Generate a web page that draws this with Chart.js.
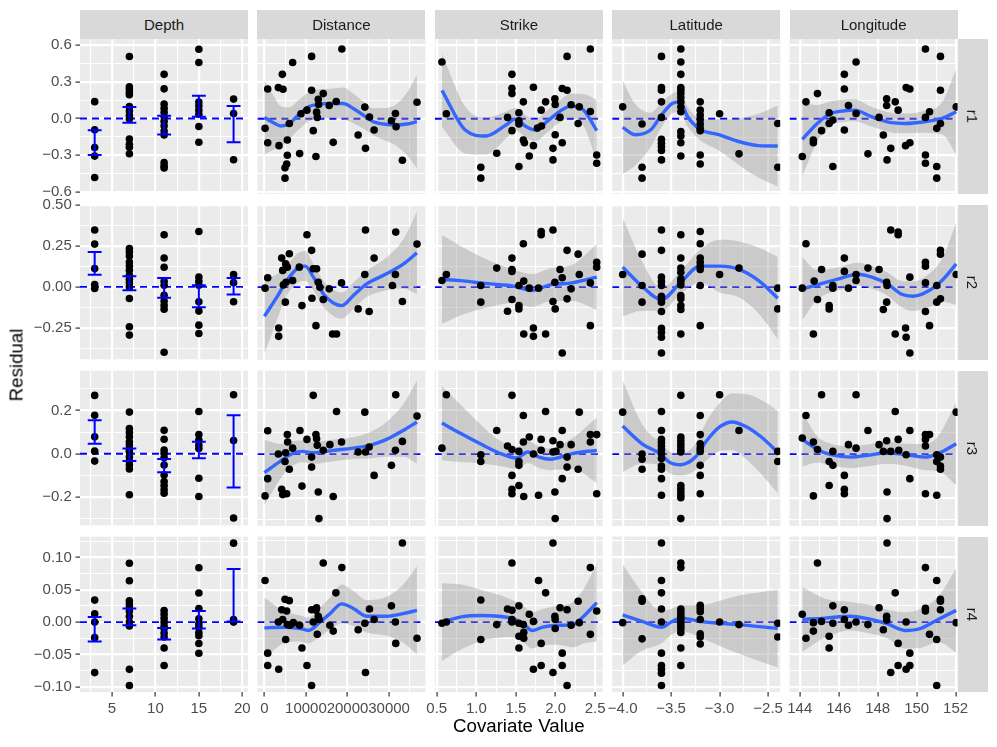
<!DOCTYPE html>
<html>
<head>
<meta charset="utf-8">
<script src="https://cdn.jsdelivr.net/npm/chart.js@4.4.1/dist/chart.umd.min.js"></script>
<style>
  body { margin: 0; background: #fff; width: 997px; height: 747px; position: relative; overflow: hidden; font-family: "Liberation Sans", Arial, sans-serif; }
  canvas { position: absolute; }
  .strip { position: absolute; background: #d9d9d9; color: #1a1a1a; font-size: 15px; display: flex; align-items: center; justify-content: center; }
  .strip span { display: block; white-space: nowrap; }
  .strip.right span { transform: rotate(90deg); }
  .title { position: absolute; color: #000; font-size: 18.7px; white-space: nowrap; line-height: 1.117; }
</style>
</head>
<body>
<script>
// facets
const covariates = ['Depth', 'Distance', 'Strike', 'Latitude', 'Longitude'];
const residualNames = ['r1', 'r2', 'r3', 'r4'];

// x axes (limits, major ticks, labels, minor grid)
const depthLimits = [1.31, 20.66];
const depthTicks = [5, 10, 15, 20];
const depthTickLabels = ['5', '10', '15', '20'];
const depthMinor = [2.5, 7.5, 12.5, 17.5];

const distLimits = [-1680, 38735];
const distTicks = [0, 10000, 20000, 30000];
const distTickLabels = ['0', '10000', '20000', '30000'];
const distMinor = [5000, 15000, 25000, 35000];

const strikeLimits = [0.475, 2.596];
const strikeTicks = [0.5, 1.0, 1.5, 2.0, 2.5];
const strikeTickLabels = ['0.5', '1.0', '1.5', '2.0', '2.5'];
const strikeMinor = [0.75, 1.25, 1.75, 2.25];

const latLimits = [-4.108, -2.375];
const latTicks = [-4.0, -3.5, -3.0, -2.5];
const latTickLabels = ['\u22124.0', '\u22123.5', '\u22123.0', '\u22122.5'];
const latMinor = [-3.75, -3.25, -2.75];

const lonLimits = [143.48, 152.1];
const lonTicks = [144, 146, 148, 150, 152];
const lonTickLabels = ['144', '146', '148', '150', '152'];
const lonMinor = [145, 147, 149, 151];

// y axes, one per residual row
const r1Limits = [-0.613, 0.654];
const r1Ticks = [-0.6, -0.3, 0, 0.3, 0.6];
const r1TickLabels = ['\u22120.6', '\u22120.3', '0.0', '0.3', '0.6'];
const r1Minor = [-0.45, -0.15, 0.15, 0.45];

const r2Limits = [-0.443, 0.503];
const r2Ticks = [-0.25, 0, 0.25, 0.5];
const r2TickLabels = ['\u22120.25', '0.00', '0.25', '0.50'];
const r2Minor = [-0.375, -0.125, 0.125, 0.375];

const r3Limits = [-0.330, 0.383];
const r3Ticks = [-0.2, 0, 0.2];
const r3TickLabels = ['\u22120.2', '0.0', '0.2'];
const r3Minor = [-0.3, -0.1, 0.1, 0.3];

const r4Limits = [-0.108, 0.132];
const r4Ticks = [-0.10, -0.05, 0, 0.05, 0.10];
const r4TickLabels = ['\u22120.10', '\u22120.05', '0.00', '0.05', '0.10'];
const r4Minor = [-0.075, -0.025, 0.025, 0.075, 0.125];

// Depth column: residuals at each depth level, and error bar [low, high]
const depthLevels = [3, 7, 11, 15, 19];
const depthR1 = [[0.138, -0.092, -0.238, -0.308, -0.484],
  [0.508, 0.259, 0.238, 0.211, 0.195, 0.097, 0.062, 0.024, -0.003, -0.168, -0.211, -0.235, -0.289],
  [0.362, 0.243, 0.119, 0.084, 0.051, 0.016, -0.022, -0.059, -0.103, -0.135, -0.362, -0.389, -0.405],
  [0.568, 0.459, 0.135, 0.103, 0.068, 0.035, -0.065, -0.195],
  [0.159, 0.041, -0.338]];
const depthR1Bars = [[-0.300, -0.097], [-0.035, 0.095], [-0.132, 0.022], [0.014, 0.186], [-0.195, 0.103]];
const depthR2 = [[0.348, 0.262, 0.112, 0.014, -0.010],
  [0.234, 0.213, 0.189, 0.152, 0.128, 0.102, 0.071, 0.047, 0.026, 0, -0.071, -0.244, -0.295],
  [0.319, 0.177, 0.120, 0.035, 0.010, -0.051, -0.087, -0.112, -0.136, -0.400],
  [0.339, 0.061, 0.035, 0.010, -0.091, -0.148, -0.234, -0.285],
  [0.075, 0.026, -0.091]];
const depthR2Bars = [[0.075, 0.213], [-0.020, 0.065], [-0.067, 0.055], [-0.124, 0.010], [-0.047, 0.055]];
const depthR3 = [[0.269, 0.177, 0.078, 0.012, -0.034],
  [0.192, 0.116, 0.098, 0.078, 0.055, 0.040, 0.021, 0.009, -0.014, -0.034, -0.052, -0.070, -0.189],
  [0.108, 0.067, 0.017, 0.002, -0.018, -0.052, -0.098, -0.128, -0.147, -0.166, -0.182],
  [0.195, 0.089, 0.063, 0.040, 0.024, -0.113, -0.197],
  [0.272, 0.061, -0.296]];
const depthR3Bars = [[0.046, 0.154], [-0.034, 0.024], [-0.085, -0.024], [-0.021, 0.055], [-0.156, 0.177]];
const depthR4 = [[0.034, 0.013, 0, -0.024, -0.078],
  [0.091, 0.064, 0.033, 0.028, 0.023, 0.017, 0.009, 0, -0.006, -0.073, -0.098],
  [0.018, 0.012, 0.006, 0, -0.006, -0.010, -0.017, -0.023, -0.040, -0.067],
  [0.084, 0.045, 0.021, 0.005, -0.003, -0.008, -0.016, -0.021, -0.033, -0.048],
  [0.122, 0.004, 0]];
const depthR4Bars = [[-0.030, 0.008], [-0.005, 0.021], [-0.027, -0.009], [-0.010, 0.017], [0.001, 0.082]];

// scatter points [covariate, residual]
const distR1 = [[160,-0.078],[800,0.243],[800,-0.195],[3360,0.254],[3520,-0.219],[4320,0.362],[4480,0.241],[4960,-0.484],[4960,-0.400],[5360,-0.368],[5520,-0.297],[5520,-0.173],[6000,-0.038],[6800,0.459],[8480,-0.284],[8800,0.041],[10240,0.070],[11360,0.508],[11360,0.232],[11760,-0.097],[12400,-0.308],[12560,0.054],[12720,0.011],[12960,0.159],[13040,0.116],[14160,0.205],[15600,0.108],[16560,-0.192],[17280,0.141],[18640,0.568],[22560,-0.132],[24160,0.095],[24320,-0.241],[25280,0.014],[26400,-0.092],[30560,-0.016],[31520,0.043],[31680,-0.065],[33200,-0.338],[36720,0.135]];
const strikeR1 = [[0.565,0.462],[0.621,0.041],[1.056,-0.395],[1.056,-0.484],[1.257,-0.281],[1.393,0.011],[1.449,0.362],[1.449,0.249],[1.449,0.205],[1.449,-0.097],[1.537,0.049],[1.537,-0.016],[1.537,-0.043],[1.537,-0.389],[1.593,0.138],[1.593,-0.173],[1.607,-0.195],[1.668,-0.303],[1.72,0.257],[1.72,-0.219],[1.771,-0.076],[1.818,0.070],[1.822,-0.059],[1.874,0.138],[1.967,-0.241],[1.967,-0.335],[1.991,0.162],[1.995,0.116],[1.995,-0.130],[2.056,0.011],[2.084,-0.195],[2.084,0.246],[2.145,0.232],[2.145,0.508],[2.196,0.114],[2.285,-0.038],[2.299,0.097],[2.439,0.568],[2.439,0.059],[2.519,-0.295],[2.519,-0.362]];
const latR1 = [[-4.0,0.097],[-3.8,-0.043],[-3.8,-0.395],[-3.8,-0.484],[-3.6,0.508],[-3.6,0.254],[-3.6,0.232],[-3.6,0.138],[-3.6,0.011],[-3.6,-0.168],[-3.6,-0.2],[-3.6,-0.227],[-3.6,-0.259],[-3.6,-0.335],[-3.4,0.568],[-3.4,0.462],[-3.4,0.362],[-3.4,0.254],[-3.4,0.232],[-3.4,0.205],[-3.4,0.173],[-3.4,0.138],[-3.4,0.097],[-3.4,0.057],[-3.4,-0.105],[-3.4,-0.141],[-3.4,-0.195],[-3.4,-0.303],[-3.2,0.138],[-3.2,0.070],[-3.2,0.030],[-3.2,-0.005],[-3.2,-0.043],[-3.2,-0.078],[-3.2,-0.097],[-3.2,-0.295],[-3.2,-0.368],[-3.0,0.041],[-2.8,-0.286],[-2.4,-0.038],[-2.4,-0.395]];
const lonR1 = [[144.13,-0.308],[144.32,0.138],[144.70,-0.173],[144.70,-0.195],[144.91,0.205],[145.12,-0.097],[145.51,0.049],[145.51,-0.038],[145.70,-0.011],[145.70,-0.389],[146.29,0.362],[146.29,0.243],[146.29,-0.092],[146.50,0.108],[146.89,0.462],[146.89,0.043],[147.50,-0.286],[148.07,0.011],[148.29,-0.132],[148.46,0.162],[148.46,0.108],[148.48,-0.335],[148.67,-0.241],[148.90,0.138],[149.05,0.070],[149.43,-0.219],[149.46,0.254],[149.65,0.243],[149.65,-0.195],[150.45,0.568],[150.45,0.011],[150.45,-0.295],[150.45,-0.362],[150.66,0.057],[151.03,-0.389],[151.03,-0.484],[151.03,-0.078],[151.22,0.508],[151.22,0.232],[151.22,-0.038],[152.03,0.097]];

const distR2 = [[160,-0.006],[800,0.057],[3440,-0.248],[3440,-0.299],[4160,0.177],[4400,0.102],[4560,0.014],[5040,-0.091],[5120,0.142],[5200,0.030],[5520,0.122],[6000,0.203],[6800,0.041],[8400,0.122],[9040,-0.112],[10240,0.319],[11360,0.224],[11440,-0.067],[11760,0.112],[12400,-0.234],[12560,0.112],[12960,0.030],[13360,0],[14160,-0.075],[15600,-0.010],[16400,-0.285],[17360,-0.285],[18560,0.026],[22560,-0.132],[24160,0.077],[24320,0.348],[25200,-0.148],[26400,0.177],[30800,0.010],[31520,0.077],[31600,0.335],[33200,-0.087],[36720,0.262]];
const strikeR2 = [[0.565,0.041],[0.621,0.077],[1.056,0.010],[1.056,-0.091],[1.257,0.116],[1.393,-0.146],[1.449,0.177],[1.449,0.108],[1.449,0.096],[1.449,-0.075],[1.537,0.010],[1.537,-0.112],[1.537,-0.132],[1.593,0.264],[1.598,0.037],[1.598,-0.285],[1.668,-0.006],[1.72,-0.248],[1.72,-0.299],[1.785,-0.006],[1.818,0.339],[1.818,0.319],[1.874,-0.285],[1.967,0.348],[1.967,-0.087],[1.991,0.030],[1.995,-0.132],[2.056,0.108],[2.084,-0.400],[2.084,0.057],[2.145,0.224],[2.145,-0.071],[2.196,-0.010],[2.285,0.201],[2.299,0.077],[2.439,0.026],[2.439,-0.234],[2.519,0.152],[2.519,0.122]];
const latR2 = [[-4.0,0.077],[-3.8,0.201],[-3.8,0.010],[-3.8,-0.091],[-3.6,0.348],[-3.6,0.224],[-3.6,0.061],[-3.6,0.035],[-3.6,0.010],[-3.6,-0.055],[-3.6,-0.075],[-3.6,-0.091],[-3.6,-0.148],[-3.6,-0.25],[-3.6,-0.274],[-3.6,-0.305],[-3.6,-0.4],[-3.4,0.319],[-3.4,0.177],[-3.4,0.116],[-3.4,0.091],[-3.4,0.051],[-3.4,0.035],[-3.4,0.014],[-3.4,-0.051],[-3.4,-0.071],[-3.4,-0.112],[-3.4,-0.136],[-3.4,-0.285],[-3.2,0.339],[-3.2,0.264],[-3.2,0.177],[-3.2,0.152],[-3.2,0.128],[-3.2,0.108],[-3.2,0.010],[-3.2,-0.234],[-3.0,0.077],[-2.8,0.116],[-2.4,-0.006],[-2.4,-0.132]];
const lonR2 = [[144.13,-0.006],[144.32,0.264],[144.70,-0.285],[144.74,0.037],[144.91,-0.075],[145.12,0.108],[145.51,-0.112],[145.51,-0.132],[145.70,0.010],[145.70,-0.006],[146.29,0.177],[146.29,0.096],[146.50,-0.006],[146.89,0.077],[146.89,0.041],[147.50,0.116],[148.07,0.108],[148.29,-0.136],[148.46,0.030],[148.46,-0.091],[148.48,0.010],[148.67,0.348],[148.90,-0.285],[149.05,0.319],[149.05,0.335],[149.43,-0.248],[149.46,-0.305],[149.65,0.061],[149.65,-0.400],[150.45,0.152],[150.45,0.128],[150.45,0.026],[150.45,-0.148],[150.66,-0.234],[151.03,0.010],[151.03,-0.091],[151.22,0.224],[151.22,0.201],[151.22,-0.071],[152.03,0.077]];

const distR3 = [[160,-0.192],[800,-0.113],[800,0.107],[3360,0],[4160,-0.162],[4400,-0.186],[4960,-0.034],[5120,0.006],[5360,-0.182],[5520,0.089],[5600,0.055],[6000,-0.070],[6800,0.027],[8560,0.108],[9040,-0.147],[10240,0.067],[11360,-0.014],[11360,-0.060],[11760,0.269],[12400,0.089],[12560,0.070],[12720,0.040],[12960,-0.174],[13120,-0.296],[14160,0.017],[15760,0.043],[16560,-0.195],[17360,0.195],[18560,0.055],[22560,0.009],[24160,0.192],[24320,0.009],[25200,0.032],[26400,-0.098],[30560,-0.052],[31520,0.017],[31600,0.272],[33200,0.058],[36720,0.174]];
const strikeR3 = [[0.565,0.027],[0.621,0.272],[1.056,-0.003],[1.056,-0.034],[1.257,0.108],[1.393,0.037],[1.449,0.269],[1.449,0.021],[1.449,-0.098],[1.449,-0.162],[1.449,-0.182],[1.537,0.012],[1.537,-0.034],[1.537,-0.052],[1.537,-0.144],[1.593,0.177],[1.593,0.055],[1.598,-0.195],[1.668,0.078],[1.72,0],[1.785,-0.189],[1.818,0.067],[1.818,0.017],[1.874,0.195],[1.967,0.061],[1.967,0.009],[1.991,-0.174],[1.995,-0.296],[2.005,0.012],[2.056,0.043],[2.084,0.108],[2.084,-0.113],[2.145,-0.014],[2.145,-0.060],[2.196,0.043],[2.285,-0.070],[2.299,0.192],[2.439,0.055],[2.439,0.089],[2.519,0.089],[2.519,-0.182]];
const latR3 = [[-4.0,0.192],[-3.8,0],[-3.8,-0.024],[-3.8,-0.07],[-3.6,0.195],[-3.6,0.108],[-3.6,0.067],[-3.6,0.052],[-3.6,0.037],[-3.6,0.021],[-3.6,0.002],[-3.6,-0.021],[-3.6,-0.055],[-3.6,-0.07],[-3.6,-0.113],[-3.6,-0.189],[-3.4,0.269],[-3.4,0.078],[-3.4,0.063],[-3.4,0.047],[-3.4,0.032],[-3.4,0.017],[-3.4,0.009],[-3.4,-0.144],[-3.4,-0.159],[-3.4,-0.174],[-3.4,-0.189],[-3.4,-0.2],[-3.4,-0.296],[-3.2,0.177],[-3.2,0.089],[-3.2,0.047],[-3.2,0.027],[-3.2,0.012],[-3.2,-0.052],[-3.2,-0.098],[-3.2,-0.182],[-3.0,0.272],[-2.8,0.108],[-2.4,0.012],[-2.4,-0.034]];
const lonR3 = [[144.13,0.073],[144.32,0.177],[144.70,0.055],[144.70,-0.192],[144.91,0.021],[145.12,0.272],[145.51,-0.034],[145.51,-0.144],[145.70,0.012],[145.70,-0.052],[146.29,-0.098],[146.29,-0.162],[146.29,-0.182],[146.50,0.043],[146.89,0.272],[146.89,0.027],[147.50,0.108],[148.07,0.043],[148.29,0.012],[148.46,0.061],[148.48,-0.174],[148.48,-0.296],[148.67,0.012],[148.90,0.195],[149.05,0.067],[149.08,0.017],[149.46,-0.003],[149.65,0.108],[149.65,-0.113],[150.45,0.089],[150.45,0.067],[150.45,0.037],[150.45,-0.182],[150.66,0.089],[151.03,-0.003],[151.03,-0.034],[151.03,-0.189],[151.22,-0.014],[151.22,-0.055],[151.22,-0.070],[152.03,0.192]];

const distR4 = [[160,0.064],[800,-0.048],[800,-0.067],[3360,0],[3440,-0.073],[4160,0.019],[4400,0.004],[4960,0.035],[5120,-0.027],[5360,0.017],[5520,-0.004],[6000,0.033],[6160,-0.005],[6960,-0.001],[8480,-0.005],[9040,-0.040],[10240,-0.067],[11360,-0.098],[11360,0.019],[11760,0],[12400,0.018],[12560,0.022],[12720,-0.019],[12960,0.009],[13200,0.004],[14160,0.091],[15760,-0.005],[16560,-0.014],[17200,0.045],[18640,0.084],[22560,-0.012],[24160,-0.002],[24320,-0.078],[25280,0.020],[26400,0.004],[30560,0.025],[31520,0],[31600,-0.033],[33200,0.122],[36720,-0.025]];
const strikeR4 = [[0.565,-0.002],[0.621,0],[1.056,0.034],[1.056,-0.027],[1.257,-0.004],[1.393,0.020],[1.449,0.091],[1.449,0.018],[1.449,0.004],[1.449,0],[1.537,0.025],[1.537,-0.002],[1.537,-0.022],[1.537,-0.040],[1.593,-0.004],[1.598,-0.016],[1.598,-0.025],[1.668,0.012],[1.72,0.001],[1.72,-0.073],[1.785,0.064],[1.818,-0.033],[1.818,-0.067],[1.874,0.045],[1.967,-0.078],[1.967,0.122],[1.991,0.009],[1.995,0.004],[1.995,-0.010],[2.056,0.022],[2.084,-0.048],[2.084,-0.067],[2.145,0.019],[2.145,-0.098],[2.196,-0.005],[2.285,0.032],[2.299,-0.001],[2.439,0.084],[2.439,-0.019],[2.519,0.017]];
const latR4 = [[-4.0,-0.001],[-3.8,0.036],[-3.8,0.032],[-3.8,-0.026],[-3.6,0.122],[-3.6,0.064],[-3.6,0.045],[-3.6,0.02],[-3.6,0],[-3.6,-0.048],[-3.6,-0.067],[-3.6,-0.073],[-3.6,-0.079],[-3.6,-0.098],[-3.4,0.091],[-3.4,0.084],[-3.4,0.02],[-3.4,0.016],[-3.4,0.011],[-3.4,0.007],[-3.4,0.003],[-3.4,-0.001],[-3.4,-0.006],[-3.4,-0.01],[-3.4,-0.016],[-3.4,-0.04],[-3.4,-0.067],[-3.2,0.026],[-3.2,0.021],[-3.2,0.016],[-3.2,0.004],[-3.2,-0.018],[-3.2,-0.023],[-3.2,-0.034],[-3.0,0],[-2.8,-0.004],[-2.4,-0.002],[-2.4,-0.023]];
const lonR4 = [[144.13,0.012],[144.32,-0.025],[144.70,-0.001],[144.70,-0.014],[144.91,0.091],[145.12,0.001],[145.51,-0.022],[145.51,-0.040],[145.70,0.025],[145.70,-0.002],[146.29,0.019],[146.29,0.004],[146.50,-0.005],[146.89,0],[147.50,-0.004],[148.07,0.022],[148.29,-0.012],[148.46,0.009],[148.46,0.003],[148.48,0.122],[148.67,-0.078],[148.90,0.045],[149.05,-0.033],[149.05,-0.067],[149.46,0],[149.46,-0.073],[149.65,-0.048],[149.65,-0.067],[150.45,0.084],[150.45,0.021],[150.45,0.017],[150.66,-0.019],[151.03,0.064],[151.03,-0.027],[151.03,-0.098],[151.22,0.035],[151.22,0.032],[151.22,0.019],[152.03,-0.001]];

// loess smooths: [x, fit, half-width of the band]
const distR1Fit = [[0,0.011,0.30],[2200,-0.032,0.22],[4000,-0.059,0.16],[6000,-0.038,0.13],[8200,0.030,0.12],[10600,0.097,0.12],[13000,0.119,0.12],[15800,0.124,0.12],[19000,0.124,0.13],[21400,0.084,0.12],[23800,0.030,0.11],[26200,-0.024,0.11],[28600,-0.043,0.13],[31800,-0.051,0.17],[34200,-0.043,0.25],[36700,-0.024,0.38]];
const strikeR1Fit = [[0.565,0.232,0.30],[0.86,-0.092,0.19],[1.117,-0.141,0.15],[1.374,-0.051,0.11],[1.49,-0.003,0.09],[1.63,-0.065,0.09],[1.748,-0.092,0.09],[1.888,-0.024,0.09],[2.075,0.070,0.09],[2.19,0.103,0.10],[2.355,0.070,0.13],[2.52,-0.097,0.25]];
const latR1Fit = [[-4.0,-0.07,0.38],[-3.87,-0.13,0.25],[-3.71,-0.09,0.14],[-3.6,0.03,0.10],[-3.49,0.124,0.08],[-3.41,0.138,0.08],[-3.33,0.016,0.08],[-3.2,-0.086,0.09],[-3.0,-0.132,0.13],[-2.8,-0.186,0.19],[-2.6,-0.219,0.26],[-2.4,-0.222,0.33]];
const lonR1Fit = [[144.13,-0.168,0.30],[144.9,-0.038,0.15],[145.6,0.043,0.10],[146.3,0.065,0.09],[146.8,0.07,0.09],[147.7,0.016,0.08],[148.7,-0.032,0.08],[149.4,-0.038,0.08],[150.4,-0.024,0.09],[151.3,0.003,0.13],[152.03,0.057,0.35]];

const distR2Fit = [[0,-0.177,0.23],[3000,-0.061,0.14],[5400,0.041,0.09],[8400,0.122,0.09],[9800,0.128,0.09],[11800,0.061,0.08],[14200,-0.041,0.08],[16600,-0.096,0.08],[18600,-0.112,0.08],[21400,-0.051,0.08],[24600,0.020,0.08],[29400,0.081,0.10],[33400,0.140,0.15],[36700,0.209,0.25]];
const strikeR2Fit = [[0.565,0.047,0.27],[0.8,0.040,0.21],[1.05,0.026,0.16],[1.3,0.015,0.12],[1.47,0.006,0.10],[1.7,-0.020,0.10],[1.93,0.014,0.10],[2.21,0.026,0.11],[2.52,0.061,0.20]];
const latR2Fit = [[-4.0,0.122,0.30],[-3.8,0.006,0.15],[-3.6,-0.075,0.07],[-3.4,0.030,0.07],[-3.2,0.128,0.10],[-3.0,0.128,0.16],[-2.8,0.108,0.17],[-2.6,0.041,0.20],[-2.4,-0.067,0.25]];
const lonR2Fit = [[144.13,-0.010,0.19],[144.9,0.014,0.09],[146.0,0.051,0.07],[147.0,0.079,0.07],[147.7,0.061,0.07],[148.5,0.020,0.07],[149.2,-0.041,0.08],[149.8,-0.055,0.09],[150.5,-0.030,0.10],[151.3,0.041,0.13],[152.03,0.142,0.25]];

const distR3Fit = [[0,-0.085,0.15],[3800,-0.034,0.08],[6200,-0.003,0.06],[9000,0.012,0.05],[11800,0.006,0.05],[16600,0.017,0.05],[21400,0.027,0.05],[25400,0.040,0.06],[29400,0.067,0.08],[33400,0.108,0.12],[36700,0.147,0.19]];
const strikeR3Fit = [[0.565,0.142,0.17],[0.81,0.093,0.13],[1.05,0.047,0.09],[1.28,0.006,0.06],[1.51,-0.018,0.05],[1.65,0.009,0.05],[1.79,-0.014,0.05],[1.93,-0.024,0.05],[2.21,0.002,0.07],[2.52,0.017,0.15]];
const latR3Fit = [[-4.0,0.128,0.21],[-3.8,0.047,0.09],[-3.6,-0.003,0.05],[-3.52,-0.037,0.05],[-3.4,-0.049,0.05],[-3.25,-0.014,0.06],[-3.13,0.063,0.09],[-3.0,0.124,0.11],[-2.87,0.147,0.13],[-2.72,0.124,0.15],[-2.57,0.078,0.17],[-2.4,0.009,0.19]];
const lonR3Fit = [[144.13,0.067,0.125],[144.9,0.021,0.06],[145.6,-0.003,0.05],[146.6,-0.014,0.05],[147.5,-0.006,0.05],[148.5,0.006,0.05],[149.4,-0.003,0.05],[150.4,-0.014,0.06],[151.1,0.002,0.08],[152.03,0.047,0.19]];

const distR4Fit = [[0,-0.009,0.047],[4600,-0.008,0.025],[8600,-0.010,0.020],[10600,-0.013,0.020],[13400,0,0.022],[15800,0.013,0.025],[18600,0.028,0.030],[21400,0.021,0.027],[24600,0.009,0.025],[29400,0.009,0.030],[33400,0.013,0.045],[36700,0.018,0.068]];
const strikeR4Fit = [[0.565,0,0.060],[0.81,0.008,0.050],[1.05,0.010,0.040],[1.28,0.009,0.033],[1.47,0.005,0.028],[1.61,-0.005,0.028],[1.7,-0.013,0.028],[1.84,-0.008,0.028],[2.03,-0.005,0.030],[2.22,-0.004,0.035],[2.355,0.009,0.042],[2.52,0.030,0.060]];
const latR4Fit = [[-4.0,0.011,0.078],[-3.8,0.001,0.045],[-3.6,-0.008,0.025],[-3.5,0,0.020],[-3.4,0.006,0.020],[-3.2,0.001,0.025],[-3.0,-0.002,0.035],[-2.8,-0.004,0.045],[-2.4,-0.010,0.060]];
const lonR4Fit = [[144.13,0.004,0.050],[145.3,0.006,0.030],[146.6,0.009,0.022],[147.5,0.005,0.022],[148.5,-0.003,0.022],[149.4,-0.013,0.028],[150.2,-0.010,0.030],[151.1,0.004,0.035],[152.03,0.018,0.065]];

// ---- assembling ----
const xAxes = [
  { limits: depthLimits, ticks: depthTicks, labels: depthTickLabels, minor: depthMinor },
  { limits: distLimits, ticks: distTicks, labels: distTickLabels, minor: distMinor },
  { limits: strikeLimits, ticks: strikeTicks, labels: strikeTickLabels, minor: strikeMinor },
  { limits: latLimits, ticks: latTicks, labels: latTickLabels, minor: latMinor },
  { limits: lonLimits, ticks: lonTicks, labels: lonTickLabels, minor: lonMinor }
];
const yAxes = [
  { limits: r1Limits, ticks: r1Ticks, labels: r1TickLabels, minor: r1Minor },
  { limits: r2Limits, ticks: r2Ticks, labels: r2TickLabels, minor: r2Minor },
  { limits: r3Limits, ticks: r3Ticks, labels: r3TickLabels, minor: r3Minor },
  { limits: r4Limits, ticks: r4Ticks, labels: r4TickLabels, minor: r4Minor }
];
const depthValues = [depthR1, depthR2, depthR3, depthR4];
const depthBars = [depthR1Bars, depthR2Bars, depthR3Bars, depthR4Bars];
const panelPoints = [
  [null, distR1, strikeR1, latR1, lonR1],
  [null, distR2, strikeR2, latR2, lonR2],
  [null, distR3, strikeR3, latR3, lonR3],
  [null, distR4, strikeR4, latR4, lonR4]
];
const panelFits = [
  [null, distR1Fit, strikeR1Fit, latR1Fit, lonR1Fit],
  [null, distR2Fit, strikeR2Fit, latR2Fit, lonR2Fit],
  [null, distR3Fit, strikeR3Fit, latR3Fit, lonR3Fit],
  [null, distR4Fit, strikeR4Fit, latR4Fit, lonR4Fit]
];

// layout of the panel grid (px)
const colLeft = [80, 257.4, 434.8, 612.2, 789.6];
const colW = 168;
const rowTop = [38.5, 204.5, 370.5, 536.5];
const rowH = 155.5;
const stripH = 29;
const capHalf = 0.8;

Chart.defaults.font.family = '"Liberation Sans", Arial, sans-serif';

const panelBg = {
  id: 'panelBg',
  beforeDraw(chart) {
    const { ctx, chartArea: a } = chart;
    ctx.save();
    ctx.fillStyle = '#ebebeb';
    ctx.fillRect(a.left, a.top, a.right - a.left, a.bottom - a.top);
    ctx.restore();
  }
};

function axisConfig(ax, showLabels, pos, size) {
  return {
    type: 'linear',
    position: pos,
    min: ax.limits[0],
    max: ax.limits[1],
    border: { display: false },
    grid: {
      color: '#ffffff',
      lineWidth: c => (c.tick && c.tick.minor) ? 1.1 : 2.2,
      drawTicks: showLabels,
      tickLength: 4.5,
      tickWidth: 1.2,
      tickColor: c => (c.tick && c.tick.minor) ? 'rgba(0,0,0,0)' : '#333333'
    },
    ticks: {
      display: showLabels,
      autoSkip: false,
      maxRotation: 0,
      minRotation: 0,
      padding: 3.7,
      color: '#4d4d4d',
      font: { size: 15 },
      callback: (v, i, t) => t[i].text
    },
    afterBuildTicks: s => {
      const major = ax.ticks.map((v, k) => ({ value: v, text: ax.labels[k] }));
      const minor = ax.minor.map(v => ({ value: v, text: '', minor: true }));
      s.ticks = major.concat(minor).sort((a, b) => a.value - b.value);
    },
    afterFit: s => {
      if (pos === 'left') s.width = size; else s.height = size;
    }
  };
}

function pointSet(pts) {
  return { data: pts, pointRadius: 3.8, pointBackgroundColor: '#000', pointBorderWidth: 0, showLine: false, order: 1 };
}

function zeroSet(lim) {
  return { data: [{ x: lim[0], y: 0 }, { x: lim[1], y: 0 }], showLine: true, pointRadius: 0,
    borderColor: '#0000ff', borderWidth: 1.8, borderDash: [7, 5], order: 5 };
}

function depthSets(vals, bars) {
  const pts = [];
  depthLevels.forEach((d, k) => vals[k].forEach(v => pts.push({ x: d, y: v })));
  const sets = [zeroSet(depthLimits), pointSet(pts)];
  depthLevels.forEach((d, k) => {
    const lo = bars[k][0], hi = bars[k][1];
    sets.push({
      data: [{ x: d - capHalf, y: hi }, { x: d + capHalf, y: hi }, { x: d, y: hi },
             { x: d, y: lo }, { x: d - capHalf, y: lo }, { x: d + capHalf, y: lo }],
      showLine: true, pointRadius: 0, borderColor: '#0000ff', borderWidth: 2, tension: 0, order: 0
    });
  });
  return sets;
}

function smoothSets(pts, fit, lim) {
  const line = { cubicInterpolationMode: 'monotone', showLine: true, pointRadius: 0 };
  return [
    zeroSet(lim),
    Object.assign({ data: fit.map(f => ({ x: f[0], y: f[1] - f[2] })), borderWidth: 0,
      borderColor: 'rgba(0,0,0,0)', fill: false, order: 4 }, line),
    Object.assign({ data: fit.map(f => ({ x: f[0], y: f[1] + f[2] })), borderWidth: 0,
      borderColor: 'rgba(0,0,0,0)', fill: '-1', backgroundColor: 'rgba(153,153,153,0.4)', order: 3 }, line),
    Object.assign({ data: fit.map(f => ({ x: f[0], y: f[1] })), borderColor: '#3366ff',
      borderWidth: 3.4, fill: false, order: 2 }, line),
    pointSet(pts.map(p => ({ x: p[0], y: p[1] })))
  ];
}

residualNames.forEach((rn, i) => {
  covariates.forEach((cv, j) => {
    const axW = j === 0 ? 80 : 0;
    const axH = i === 3 ? 30 : 0;
    const left = j === 0 ? 0 : Math.floor(colLeft[j] - 14);
    const padL = j === 0 ? 0 : colLeft[j] - left;
    const top = Math.floor(rowTop[i] - 12);
    const padT = rowTop[i] - top;
    const w = Math.ceil(padL + axW + colW + 14);
    const padR = w - padL - axW - colW;
    const h = Math.ceil(padT + rowH + axH + (i === 3 ? 0 : 12));
    const padB = h - padT - rowH - axH;

    const canvas = document.createElement('canvas');
    canvas.width = w;
    canvas.height = h;
    canvas.style.left = left + 'px';
    canvas.style.top = top + 'px';
    canvas.style.width = w + 'px';
    canvas.style.height = h + 'px';
    document.body.appendChild(canvas);

    const datasets = j === 0
      ? depthSets(depthValues[i], depthBars[i])
      : smoothSets(panelPoints[i][j], panelFits[i][j], xAxes[j].limits);

    new Chart(canvas, {
      type: 'scatter',
      data: { datasets: datasets },
      options: {
        responsive: false,
        animation: false,
        events: [],
        layout: { padding: { left: padL, right: padR, top: padT, bottom: padB } },
        plugins: { legend: { display: false }, tooltip: { enabled: false } },
        scales: {
          x: axisConfig(xAxes[j], i === 3, 'bottom', axH),
          y: axisConfig(yAxes[i], j === 0, 'left', axW)
        }
      },
      plugins: [panelBg]
    });
  });
});

// facet strips
covariates.forEach((cv, j) => {
  const d = document.createElement('div');
  d.className = 'strip';
  d.style.left = colLeft[j] + 'px';
  d.style.top = (rowTop[0] - stripH) + 'px';
  d.style.width = colW + 'px';
  d.style.height = stripH + 'px';
  d.innerHTML = '<span>' + cv + '</span>';
  document.body.appendChild(d);
});
residualNames.forEach((rn, i) => {
  const d = document.createElement('div');
  d.className = 'strip right';
  d.style.left = '958px';
  d.style.top = rowTop[i] + 'px';
  d.style.width = '29.5px';
  d.style.height = rowH + 'px';
  d.innerHTML = '<span>' + rn + '</span>';
  document.body.appendChild(d);
});

// axis titles
const xTitle = document.createElement('div');
xTitle.className = 'title';
xTitle.textContent = 'Covariate Value';
xTitle.style.left = '518.8px';
xTitle.style.top = '715.5px';
xTitle.style.transform = 'translateX(-50%)';
document.body.appendChild(xTitle);

const yTitle = document.createElement('div');
yTitle.className = 'title';
yTitle.textContent = 'Residual';
yTitle.style.left = '17px';
yTitle.style.top = '365px';
yTitle.style.transform = 'translate(-50%, -50%) rotate(-90deg)';
document.body.appendChild(yTitle);
</script>
</body>
</html>
